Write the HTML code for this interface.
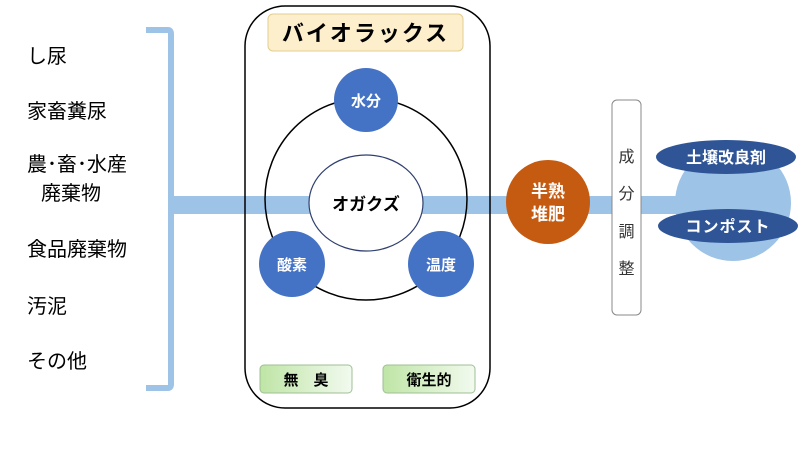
<!DOCTYPE html>
<html><head><meta charset="utf-8"><style>
body{margin:0;width:800px;height:450px;background:#fff;overflow:hidden}
</style></head><body>
<svg width="800" height="450" xmlns="http://www.w3.org/2000/svg" font-family="Liberation Sans, Noto Sans CJK JP, sans-serif">
<defs>
<linearGradient id="g" x1="0" x2="1"><stop offset="0" stop-color="#bfe5a6"/><stop offset="1" stop-color="#f2faef"/></linearGradient>
</defs>
<!-- bracket -->
<path d="M146 30 H168 Q171 30 171 34 V384 Q171 388 168 388 H146" fill="none" stroke="#9dc3e6" stroke-width="6"/>
<!-- main bar -->
<rect x="171" y="196" width="520" height="18" fill="#9dc3e6"/>
<!-- left labels -->
<g font-size="20" fill="#000">
<text x="27" y="63">し尿</text>
<text x="27" y="118">家畜糞尿</text>
<text x="27" y="171">農･畜･水産</text>
<text x="41" y="200">廃棄物</text>
<text x="27" y="256">食品廃棄物</text>
<text x="27" y="313">汚泥</text>
<text x="27" y="368">その他</text>
</g>
<!-- main box -->
<rect x="245" y="6" width="245" height="402" rx="40" fill="none" stroke="#000" stroke-width="1.5"/>
<rect x="246" y="196" width="243" height="18" fill="#9dc3e6"/>
<rect x="268" y="14" width="195" height="37" rx="5" fill="#fdefcc" stroke="#e3cc8f"/>
<text x="365.5" y="41" font-size="22" font-weight="bold" text-anchor="middle" letter-spacing="2">バイオラックス</text>
<circle cx="366" cy="199" r="101" fill="none" stroke="#000" stroke-width="1.5"/>
<ellipse cx="366" cy="203" rx="57" ry="48" fill="#fff" stroke="#2f3f6f" stroke-width="1.2"/>
<text x="366" y="210" font-size="17" font-weight="bold" text-anchor="middle">オガクズ</text>
<g fill="#4472c4">
<circle cx="366" cy="100" r="32"/>
<circle cx="292" cy="264" r="33"/>
<circle cx="441" cy="264" r="33"/>
</g>
<g fill="#fff" font-size="15" font-weight="bold" text-anchor="middle">
<text x="366" y="106">水分</text>
<text x="292" y="270">酸素</text>
<text x="441" y="270">温度</text>
</g>
<rect x="260" y="365" width="92" height="28" rx="4" fill="url(#g)" stroke="#9fbf94"/>
<rect x="383" y="365" width="92" height="28" rx="4" fill="url(#g)" stroke="#9fbf94"/>
<text x="306" y="385" font-size="15" font-weight="bold" text-anchor="middle">無　臭</text>
<text x="429" y="385" font-size="15" font-weight="bold" text-anchor="middle">衛生的</text>
<!-- half-mature -->
<circle cx="548" cy="202" r="42" fill="#c55a11"/>
<text x="548" y="197" fill="#fff" font-size="17" font-weight="bold" text-anchor="middle">半熟</text>
<text x="548" y="220" fill="#fff" font-size="17" font-weight="bold" text-anchor="middle">堆肥</text>
<!-- adjustment -->
<rect x="612" y="100" width="29" height="215" rx="5" fill="#fff" stroke="#888"/>
<g font-size="16" text-anchor="middle" fill="#333">
<text x="626.5" y="162">成</text>
<text x="626.5" y="199">分</text>
<text x="626.5" y="237">調</text>
<text x="626.5" y="274">整</text>
</g>
<!-- products -->
<circle cx="733" cy="203" r="58" fill="#9dc3e6"/>
<ellipse cx="726" cy="157" rx="70" ry="17" fill="#2f5597"/>
<ellipse cx="728" cy="226" rx="70" ry="17" fill="#2f5597"/>
<text x="726" y="163" fill="#fff" font-size="16" font-weight="bold" text-anchor="middle">土壌改良剤</text>
<text x="728" y="232" fill="#fff" font-size="16" font-weight="bold" text-anchor="middle" letter-spacing="1">コンポスト</text>
</svg>
</body></html>
